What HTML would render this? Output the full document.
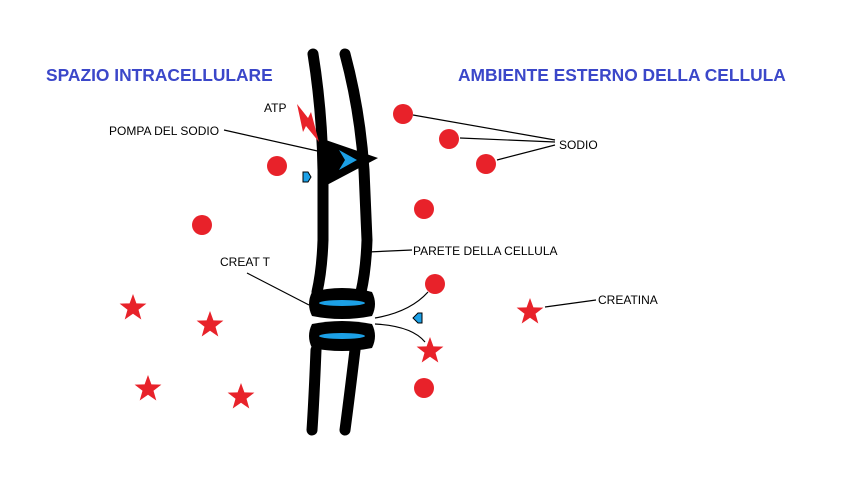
<!DOCTYPE html>
<html><head><style>body{margin:0;background:#fff}svg{display:block}</style></head><body>
<svg width="864" height="504" viewBox="0 0 864 504" xmlns="http://www.w3.org/2000/svg" font-family="Liberation Sans, sans-serif">
<rect width="864" height="504" fill="#fff"/>
<text x="46" y="81" font-size="17.4" font-weight="bold" fill="#3b47c9">SPAZIO INTRACELLULARE</text>
<text x="458" y="81" font-size="17.4" font-weight="bold" fill="#3b47c9">AMBIENTE ESTERNO DELLA CELLULA</text>
<g stroke="#000" stroke-width="1.2" fill="none">
<path d="M224 130 L322 152"/>
<path d="M413 115 L555 140 M460 138 L555 142 M497 160 L555 145"/>
<path d="M368 252 L412 250"/>
<path d="M247 273 L309 305"/>
<path d="M545 307 L596 300"/>
<path d="M375 318 Q410 312 428 292"/>
<path d="M375 324 Q412 326 425 342"/>
</g>
<g stroke="#000" stroke-width="11" fill="none" stroke-linecap="round">
<path d="M313 54 Q322 110 323 170 L323 240 Q322 270 317 292"/>
<path d="M345 54 Q360 110 364 170 L367 240 Q366 270 361 292"/>
<path d="M316 350 Q314 400 312 430"/>
<path d="M355 350 Q349 400 345 430"/>
</g>
<polygon points="320,138 378,158 325,186" fill="#000"/>
<polygon points="339,150 357,160 339,170 345,160" fill="#1ca0e6"/>
<path d="M312 292 Q342 284 372 292 Q378 304 372 316 Q342 322 312 316 Q306 304 312 292Z" fill="#000"/>
<path d="M312 324 Q342 318 372 324 Q378 336 372 348 Q342 354 312 348 Q306 336 312 324Z" fill="#000"/>
<ellipse cx="342" cy="303" rx="23" ry="3" fill="#1ca0e6"/>
<ellipse cx="342" cy="336" rx="23" ry="3" fill="#1ca0e6"/>
<polygon points="297,104 308,118 311,112 319,142 306,126 303,132" fill="#e8222a"/>
<polygon points="303,172 308,172 311,177 308,182 303,182" fill="#1ca0e6" stroke="#000" stroke-width="1"/>
<polygon points="422,313 418,313 413,318 418,323 422,323" fill="#1ca0e6" stroke="#000" stroke-width="1"/>
<g fill="#e8222a">
<circle cx="403" cy="114" r="10"/><circle cx="449" cy="139" r="10"/><circle cx="486" cy="164" r="10"/>
<circle cx="277" cy="166" r="10"/><circle cx="424" cy="209" r="10"/><circle cx="202" cy="225" r="10"/>
<circle cx="435" cy="284" r="10"/><circle cx="424" cy="388" r="10"/>
</g>
<defs><polygon id="s" points="0,-14 3.4,-4.6 13.4,-4.4 5.5,1.8 8.3,11.5 0,5.7 -8.3,11.5 -5.5,1.8 -13.4,-4.4 -3.4,-4.6"/></defs>
<g fill="#e8222a">
<use href="#s" x="133" y="308"/><use href="#s" x="210" y="325"/><use href="#s" x="148" y="389"/>
<use href="#s" x="241" y="397"/><use href="#s" x="530" y="312"/><use href="#s" x="430" y="351"/>
</g>
<g font-size="12" fill="#000">
<text x="264" y="112">ATP</text>
<text x="109" y="135">POMPA DEL SODIO</text>
<text x="559" y="149">SODIO</text>
<text x="413" y="255">PARETE DELLA CELLULA</text>
<text x="220" y="266">CREAT T</text>
<text x="598" y="304">CREATINA</text>
</g>
</svg>
</body></html>
